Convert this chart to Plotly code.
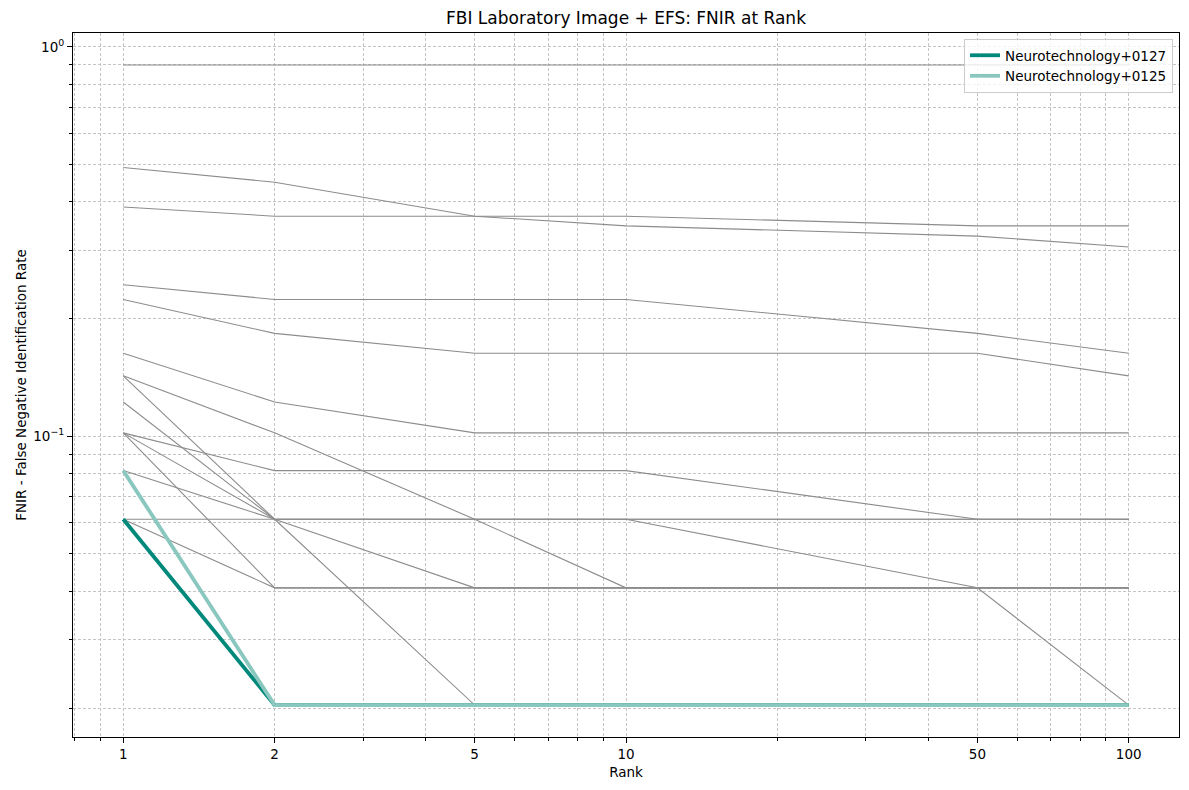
import plotly.graph_objects as go

# ---- data ----
ranks = [1, 2, 5, 10, 50, 100]

fnir_neuro_0127 = [0.0612, 0.0204, 0.0204, 0.0204, 0.0204, 0.0204]
fnir_neuro_0125 = [0.0816, 0.0204, 0.0204, 0.0204, 0.0204, 0.0204]

other_01 = [0.8980, 0.8980, 0.8980, 0.8980, 0.8980, 0.8980]
other_02 = [0.4898, 0.4490, 0.3673, 0.3469, 0.3265, 0.3061]
other_03 = [0.3878, 0.3673, 0.3673, 0.3673, 0.3469, 0.3469]
other_04 = [0.2449, 0.2245, 0.2245, 0.2245, 0.1837, 0.1633]
other_05 = [0.2245, 0.1837, 0.1633, 0.1633, 0.1633, 0.1429]
other_06 = [0.1633, 0.1224, 0.1020, 0.1020, 0.1020, 0.1020]
other_07 = [0.1429, 0.1020, 0.0612, 0.0408, 0.0408, 0.0408]
other_08 = [0.1429, 0.0612, 0.0612, 0.0612, 0.0612, 0.0612]
other_09 = [0.1224, 0.0612, 0.0612, 0.0612, 0.0408, 0.0204]
other_10 = [0.1020, 0.0816, 0.0816, 0.0816, 0.0612, 0.0612]
other_11 = [0.1020, 0.0612, 0.0204, 0.0204, 0.0204, 0.0204]
other_12 = [0.1020, 0.0408, 0.0408, 0.0408, 0.0408, 0.0408]
other_13 = [0.0816, 0.0612, 0.0408, 0.0408, 0.0408, 0.0408]
other_14 = [0.0612, 0.0612, 0.0612, 0.0612, 0.0612, 0.0612]
other_15 = [0.0612, 0.0408, 0.0408, 0.0408, 0.0408, 0.0408]

others = [other_01, other_02, other_03, other_04, other_05, other_06, other_07,
          other_08, other_09, other_10, other_11, other_12, other_13, other_14, other_15]

x_tick_vals = [1, 2, 5, 10, 50, 100]
x_tick_text = ["1", "2", "5", "10", "50", "100"]
x_minor_vals = [0.8, 0.9, 3, 4, 6, 7, 8, 9, 20, 30, 40, 60, 70, 80, 90]
y_tick_vals = [0.1, 1]
y_tick_text = ["10<sup>\u22121</sup>", "10<sup>0</sup>"]
y_minor_vals = [0.02, 0.03, 0.04, 0.05, 0.06, 0.07, 0.08, 0.09,
                0.2, 0.3, 0.4, 0.5, 0.6, 0.7, 0.8, 0.9]

# ---- figure ----
FONT = "DejaVu Sans, Arial, sans-serif"
GRAY = "#8c8c8c"
GRID = "#c4c4c4"

fig = go.Figure()
for series in others:
    fig.add_trace(go.Scatter(x=ranks, y=series, mode="lines",
                             line=dict(color=GRAY, width=1.1),
                             showlegend=False, hoverinfo="skip"))

fig.add_trace(go.Scatter(x=ranks, y=fnir_neuro_0127, mode="lines",
                         name="Neurotechnology+0127",
                         line=dict(color="#00897b", width=3.8)))
fig.add_trace(go.Scatter(x=ranks, y=fnir_neuro_0125, mode="lines",
                         name="Neurotechnology+0125",
                         line=dict(color="#8ac8bf", width=3.8)))

# the page body adds an 8px offset; margins compensate for it
fig.update_layout(
    width=1189, height=790,
    paper_bgcolor="white", plot_bgcolor="white",
    margin=dict(l=65, r=18, t=25, b=61, autoexpand=False),
    font=dict(family=FONT, size=13.5, color="black"),
    title=dict(text="FBI Laboratory Image + EFS: FNIR at Rank",
               x=(65 + 1171) / 2 / 1189, xanchor="center",
               y=1 - 10 / 790, yanchor="middle", yref="container",
               font=dict(family=FONT, size=17, color="black")),
    legend=dict(x=0.9946, y=0.9915, xanchor="right", yanchor="top",
                bgcolor="rgba(255,255,255,0.8)", bordercolor="#cccccc",
                borderwidth=1, font=dict(family=FONT, size=13.5),
                tracegroupgap=0, itemwidth=30),
)

fig.update_xaxes(
    type="log", range=[-0.1, 2.1], automargin=True,
    tickmode="array", tickvals=x_tick_vals, ticktext=x_tick_text,
    ticks="outside", ticklen=5, tickwidth=1, tickcolor="black",
    showline=True, linecolor="black", linewidth=1, mirror=True,
    showgrid=True, gridcolor=GRID, gridwidth=0.6, griddash="3px,2px",
    zeroline=False,
    minor=dict(tickmode="array", tickvals=x_minor_vals, ticks="outside",
               ticklen=3, tickcolor="black", tickwidth=0.8,
               showgrid=True, gridcolor=GRID, gridwidth=0.6, griddash="3px,2px"),
    title=dict(text="Rank", standoff=6, font=dict(family=FONT, size=13.5)),
)

fig.update_yaxes(
    type="log", range=[-1.7724, 0.0354], automargin=True,
    tickmode="array", tickvals=y_tick_vals, ticktext=y_tick_text,
    ticks="outside", ticklen=5, tickwidth=1, tickcolor="black",
    showline=True, linecolor="black", linewidth=1, mirror=True,
    showgrid=True, gridcolor=GRID, gridwidth=0.6, griddash="3px,2px",
    zeroline=False,
    minor=dict(tickmode="array", tickvals=y_minor_vals, ticks="outside",
               ticklen=3, tickcolor="black", tickwidth=0.8,
               showgrid=True, gridcolor=GRID, gridwidth=0.6, griddash="3px,2px"),
    title=dict(text="FNIR - False Negative Identification Rate", standoff=3,
               font=dict(family=FONT, size=13.5)),
)

fig.write_html("out.html")
